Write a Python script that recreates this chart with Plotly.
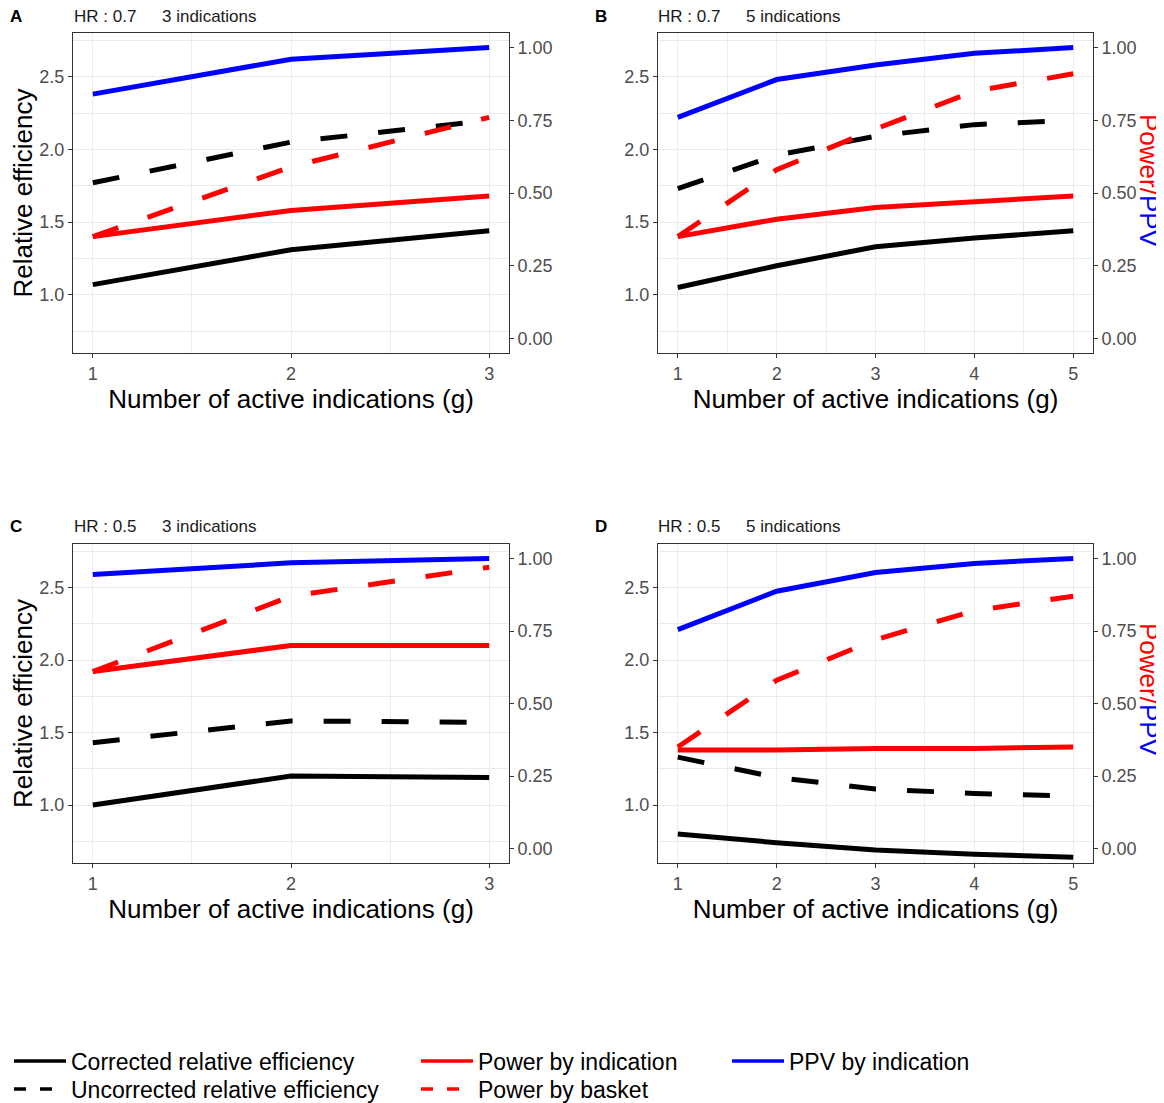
import plotly.graph_objects as go

# ---------------- data ----------------
g3 = [1, 2, 3]
g5 = [1, 2, 3, 4, 5]

# Panel A: HR 0.7, 3 indications
a_corrected = [1.07, 1.31, 1.44]
a_uncorrected = [1.77, 2.05, 2.20]
a_power_ind = [0.35, 0.44, 0.49]
a_power_basket = [0.35, 0.59, 0.76]
a_ppv = [0.84, 0.96, 1.00]

# Panel B: HR 0.7, 5 indications
b_corrected = [1.05, 1.20, 1.33, 1.39, 1.44]
b_uncorrected = [1.73, 1.96, 2.09, 2.17, 2.20]
b_power_ind = [0.35, 0.41, 0.45, 0.47, 0.49]
b_power_basket = [0.35, 0.58, 0.72, 0.85, 0.91]
b_ppv = [0.76, 0.89, 0.94, 0.98, 1.00]

# Panel C: HR 0.5, 3 indications
c_corrected = [1.00, 1.20, 1.19]
c_uncorrected = [1.43, 1.58, 1.57]
c_power_ind = [0.61, 0.70, 0.70]
c_power_basket = [0.61, 0.87, 0.97]
c_ppv = [0.945, 0.985, 1.00]

# Panel D: HR 0.5, 5 indications
d_corrected = [0.80, 0.74, 0.69, 0.66, 0.64]
d_uncorrected = [1.33, 1.19, 1.11, 1.08, 1.06]
d_power_ind = [0.34, 0.34, 0.345, 0.345, 0.35]
d_power_basket = [0.35, 0.58, 0.72, 0.82, 0.87]
d_ppv = [0.755, 0.887, 0.952, 0.983, 1.00]

panel_letters = ["A", "B", "C", "D"]
panel_hr = ["HR : 0.7", "HR : 0.7", "HR : 0.5", "HR : 0.5"]
panel_ind = ["3 indications", "5 indications", "3 indications", "5 indications"]

series_names = ["Corrected relative efficiency", "Uncorrected relative efficiency",
                "Power by indication", "Power by basket", "PPV by indication"]

# ---------------- figure ----------------
PAGE_OFF = 8                       # default body margin of the html page
W, H = 1164 - PAGE_OFF, 1103 - PAGE_OFF
FONT = "Liberation Sans, Arial, sans-serif"
GRID = "#EBEBEB"
TICKC = "#4D4D4D"
BORDER = "#333333"
DASH = "27px,31px"
LEG_DASH = "12px,14px"


def px(x):
    return (x - PAGE_OFF) / W


def py(y):
    return 1 - (y - PAGE_OFF) / H


fig = go.Figure()

# page-pixel boxes of panels (left, right, top, bottom)
boxes = [(73, 509, 33, 353), (658, 1093, 33, 353), (73, 509, 544, 863), (658, 1093, 544, 863)]

panels = [
    (g3, a_corrected, a_uncorrected, a_power_ind, a_power_basket, a_ppv),
    (g5, b_corrected, b_uncorrected, b_power_ind, b_power_basket, b_ppv),
    (g3, c_corrected, c_uncorrected, c_power_ind, c_power_basket, c_ppv),
    (g5, d_corrected, d_uncorrected, d_power_ind, d_power_basket, d_ppv),
]

colors = ["#000000", "#000000", "#FF0000", "#FF0000", "#0000FF"]
dashes = ["solid", DASH, "solid", DASH, "solid"]

for i, (g, corr, unc, pind, pbas, ppv) in enumerate(panels):
    xa = "x" if i == 0 else f"x{i+1}"
    yl = "y" if i == 0 else f"y{2*i+1}"
    yr = f"y{2*i+2}"
    vals_list = [corr, unc, pind, pbas, ppv]
    axes_list = [yl, yl, yr, yr, yr]
    for k in range(5):
        fig.add_trace(go.Scatter(
            x=g, y=vals_list[k], mode="lines", name=series_names[k],
            line=dict(color=colors[k], width=5, dash=dashes[k]),
            xaxis=xa, yaxis=axes_list[k], showlegend=False,
            legendgroup=series_names[k],
        ))

# legend entries (one single-item legend per key, placed like the reference grid)
legend_ids = ["legend", "legend2", "legend3", "legend4", "legend5"]
legend_pos = [(9, 1061), (9, 1089), (416, 1061), (416, 1089), (727, 1061)]
leg_dashes = ["solid", LEG_DASH, "solid", LEG_DASH, "solid"]
for k in range(5):
    fig.add_trace(go.Scatter(
        x=[None], y=[None], mode="lines", name=series_names[k],
        line=dict(color=colors[k], width=3.5, dash=leg_dashes[k]),
        showlegend=True, legend=legend_ids[k], legendgroup=series_names[k],
    ))

layout = dict(
    width=W, height=H,
    margin=dict(l=0, r=0, t=0, b=0, autoexpand=False),
    paper_bgcolor="white", plot_bgcolor="white",
    font=dict(family=FONT, color="black"),
    showlegend=True,
)

for i, (l, r, t, b) in enumerate(boxes):
    xkey = "xaxis" if i == 0 else f"xaxis{i+1}"
    ylkey = "yaxis" if i == 0 else f"yaxis{2*i+1}"
    yrkey = f"yaxis{2*i+2}"
    yl_id = "y" if i == 0 else f"y{2*i+1}"
    x_id = "x" if i == 0 else f"x{i+1}"
    n = len(panels[i][0])
    xdom = [px(l), px(r)]
    ydom = [py(b), py(t)]
    layout[xkey] = dict(
        domain=xdom, anchor=yl_id, range=[1 - 0.05 * (n - 1), n + 0.05 * (n - 1)],
        automargin=False,
        tickmode="linear", tick0=1, dtick=1,
        showgrid=True, gridcolor=GRID, gridwidth=1.2,
        minor=dict(showgrid=True, gridcolor=GRID, gridwidth=0.8, dtick=0.5, tick0=1, ticks=""),
        showline=True, linecolor=BORDER, linewidth=1.3, mirror=True,
        ticks="outside", ticklen=4, tickcolor=BORDER,
        tickfont=dict(size=18, color=TICKC, family=FONT),
        zeroline=False,
        title=dict(text="Number of active indications (g)", font=dict(size=26, color="black", family=FONT), standoff=5),
    )
    layout[ylkey] = dict(
        domain=ydom, anchor=x_id, range=[0.6, 2.8],
        automargin=False,
        tickmode="linear", tick0=1.0, dtick=0.5, tickformat=".1f",
        showgrid=True, gridcolor=GRID, gridwidth=1.2,
        minor=dict(showgrid=True, gridcolor=GRID, gridwidth=0.8, dtick=0.25, tick0=0.75, ticks=""),
        showline=True, linecolor=BORDER, linewidth=1.3, mirror=True,
        ticks="outside", ticklen=4, tickcolor=BORDER,
        tickfont=dict(size=18, color=TICKC, family=FONT),
        zeroline=False,
        title=dict(text="Relative efficiency" if i in (0, 2) else "",
                   font=dict(size=26, color="black", family=FONT), standoff=7),
    )
    layout[yrkey] = dict(
        domain=ydom, anchor=x_id, overlaying=yl_id, side="right",
        automargin=False,
        range=[-0.05, 1.05], tickmode="linear", tick0=0, dtick=0.25, tickformat=".2f",
        showgrid=False, showline=False, zeroline=False,
        ticks="outside", ticklen=4, tickcolor=BORDER,
        tickfont=dict(size=18, color=TICKC, family=FONT),
    )

for k in range(5):
    lx, ly = legend_pos[k]
    layout[legend_ids[k]] = dict(
        orientation="v", x=px(lx), xanchor="left", y=py(ly), yanchor="middle",
        font=dict(size=23, color="black", family=FONT),
        bgcolor="rgba(0,0,0,0)", itemwidth=52, borderwidth=0,
    )

annotations = []
letter_x = [16, 601, 16, 601]
hr_x = [72, 656, 72, 656]
ind_x = [160, 744, 160, 744]
title_y = [17, 17, 527, 527]
for i in range(4):
    annotations.append(dict(text=f"<b>{panel_letters[i]}</b>", x=px(letter_x[i]), y=py(title_y[i]),
                            xref="paper", yref="paper", showarrow=False, xanchor="center", yanchor="middle",
                            font=dict(size=17, color="black", family=FONT)))
    annotations.append(dict(text=panel_hr[i], x=px(hr_x[i]), y=py(title_y[i]),
                            xref="paper", yref="paper", showarrow=False, xanchor="left", yanchor="middle",
                            font=dict(size=17, color="#1A1A1A", family=FONT)))
    annotations.append(dict(text=panel_ind[i], x=px(ind_x[i]), y=py(title_y[i]),
                            xref="paper", yref="paper", showarrow=False, xanchor="left", yanchor="middle",
                            font=dict(size=17, color="#1A1A1A", family=FONT)))

for yc in (181, 690):
    annotations.append(dict(
        text="<span style='color:#FF0000'>Power/</span><span style='color:#0000FF'>PPV</span>",
        x=px(1149), y=py(yc), xref="paper", yref="paper", showarrow=False,
        textangle=90, xanchor="center", yanchor="middle",
        font=dict(size=26, family=FONT)))

layout["annotations"] = annotations
fig.update_layout(**layout)

fig.write_html("out.html")
